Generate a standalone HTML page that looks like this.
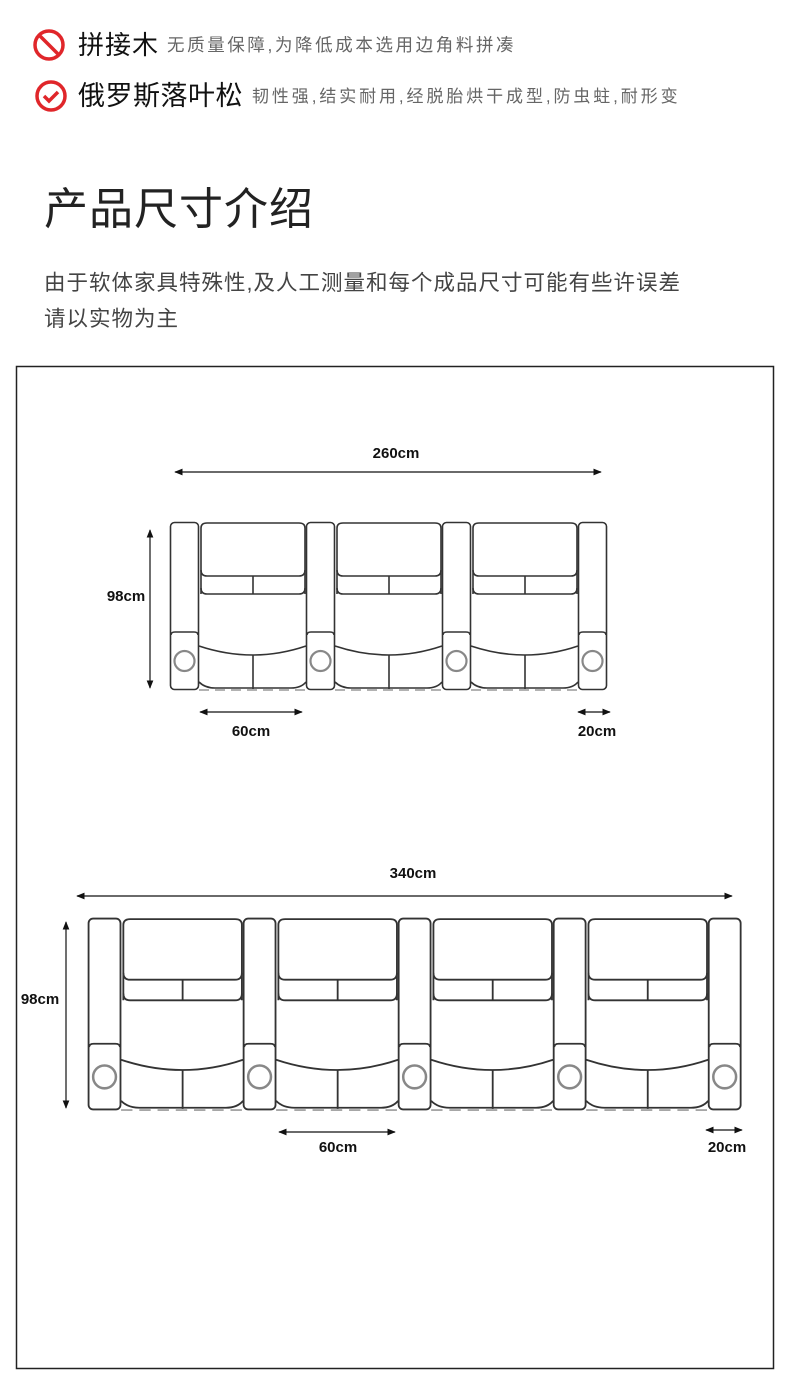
<!DOCTYPE html>
<html><head><meta charset="utf-8"><style>
body{margin:0;width:790px;height:1390px;background:#fff;position:relative;overflow:hidden;font-family:"Liberation Sans","Noto Sans CJK SC",sans-serif}
.t{position:absolute;white-space:nowrap;line-height:1}
</style></head><body>
<svg width="790" height="1390" style="position:absolute;left:0;top:0">
<defs>
<g id="arm" fill="none" stroke="#333" stroke-width="1.6">
<rect x="0.5" y="0.5" width="28" height="167" rx="4"/>
<path d="M1 113 Q1 110 5 110 L24 110 Q28 110 28 113"/>
<circle cx="14.5" cy="139" r="10" stroke="#888" stroke-width="2.2"/>
</g>
<g id="seat" fill="none" stroke="#333" stroke-width="1.6">
<path d="M31 72 L31 6 Q31 1 37 1 L129 1 Q135 1 135 6 L135 72"/>
<path d="M31 48 Q31 54 37 54 L129 54 Q135 54 135 48"/>
<path d="M31 66 Q31 72 37 72 L129 72 Q135 72 135 66"/>
<line x1="83" y1="54" x2="83" y2="72"/>
<path d="M29 124 Q83 142 136 124"/>
<line x1="83" y1="133" x2="83" y2="167"/>
<path d="M29 160 Q35 166 45 166 L121 166 Q131 166 136 160"/>
<line x1="29" y1="168" x2="136" y2="168" stroke="#999" stroke-dasharray="10 6" stroke-width="1.4"/>
</g>
<marker id="ah" viewBox="0 0 10 10" refX="9" refY="5" markerWidth="7" markerHeight="7" orient="auto-start-reverse"><path d="M0 1 L10 5 L0 9Z" fill="#111"/></marker>
</defs>
<rect x="16.5" y="366.5" width="757" height="1002" fill="none" stroke="#222" stroke-width="1.5"/>
<g transform="translate(170,522)">
<use href="#arm"/><use href="#seat"/>
<use href="#arm" x="136"/><use href="#seat" x="136"/>
<use href="#arm" x="272"/><use href="#seat" x="272"/>
<use href="#arm" x="408"/>
</g>
<g transform="translate(88,918) scale(1.14,1.143)">
<use href="#arm"/><use href="#seat"/>
<use href="#arm" x="136"/><use href="#seat" x="136"/>
<use href="#arm" x="272"/><use href="#seat" x="272"/>
<use href="#arm" x="408"/><use href="#seat" x="408"/>
<use href="#arm" x="544"/>
</g>
<g stroke="#111" stroke-width="1.2" marker-start="url(#ah)" marker-end="url(#ah)">
<line x1="175" y1="472" x2="601" y2="472"/>
<line x1="150" y1="530" x2="150" y2="688"/>
<line x1="200" y1="712" x2="302" y2="712"/>
<line x1="578" y1="712" x2="610" y2="712"/>
<line x1="77" y1="896" x2="732" y2="896"/>
<line x1="66" y1="922" x2="66" y2="1108"/>
<line x1="279" y1="1132" x2="395" y2="1132"/>
<line x1="706" y1="1130" x2="742" y2="1130"/>
</g>
<g font-family="Liberation Sans,sans-serif" font-weight="bold" font-size="15" fill="#111" text-anchor="middle">
<text x="396" y="458">260cm</text>
<text x="126" y="601">98cm</text>
<text x="251" y="736">60cm</text>
<text x="597" y="736">20cm</text>
<text x="413" y="878">340cm</text>
<text x="40" y="1004">98cm</text>
<text x="338" y="1152">60cm</text>
<text x="727" y="1152">20cm</text>
</g>
<circle cx="49" cy="45" r="14" fill="none" stroke="#e0262a" stroke-width="3.5"/>
<line x1="39" y1="35" x2="59" y2="55" stroke="#e0262a" stroke-width="3.5"/>
<circle cx="51" cy="96" r="14" fill="none" stroke="#e0262a" stroke-width="3.5"/>
<path d="M44 96 L49 101 L58 92" fill="none" stroke="#e0262a" stroke-width="3.5"/>
</svg>
<div class="t" style="left:78px;top:32px;font-size:26px;color:#111;letter-spacing:1px">拼接木</div>
<div class="t" style="left:167px;top:37px;font-size:17.5px;color:#666;letter-spacing:2.6px">无质量保障,为降低成本选用边角料拼凑</div>
<div class="t" style="left:78px;top:83px;font-size:27px;color:#111;letter-spacing:0.5px">俄罗斯落叶松</div>
<div class="t" style="left:252px;top:88px;font-size:17px;color:#666;letter-spacing:2.9px">韧性强,结实耐用,经脱胎烘干成型,防虫蛀,耐形变</div>
<div class="t" style="left:44px;top:188px;font-size:44px;color:#222;letter-spacing:1px">产品尺寸介绍</div>
<div class="t" style="left:44px;top:273px;font-size:21.5px;color:#444;letter-spacing:1px">由于软体家具特殊性,及人工测量和每个成品尺寸可能有些许误差</div>
<div class="t" style="left:44px;top:309px;font-size:21.5px;color:#444;letter-spacing:1px">请以实物为主</div>
</body></html>
